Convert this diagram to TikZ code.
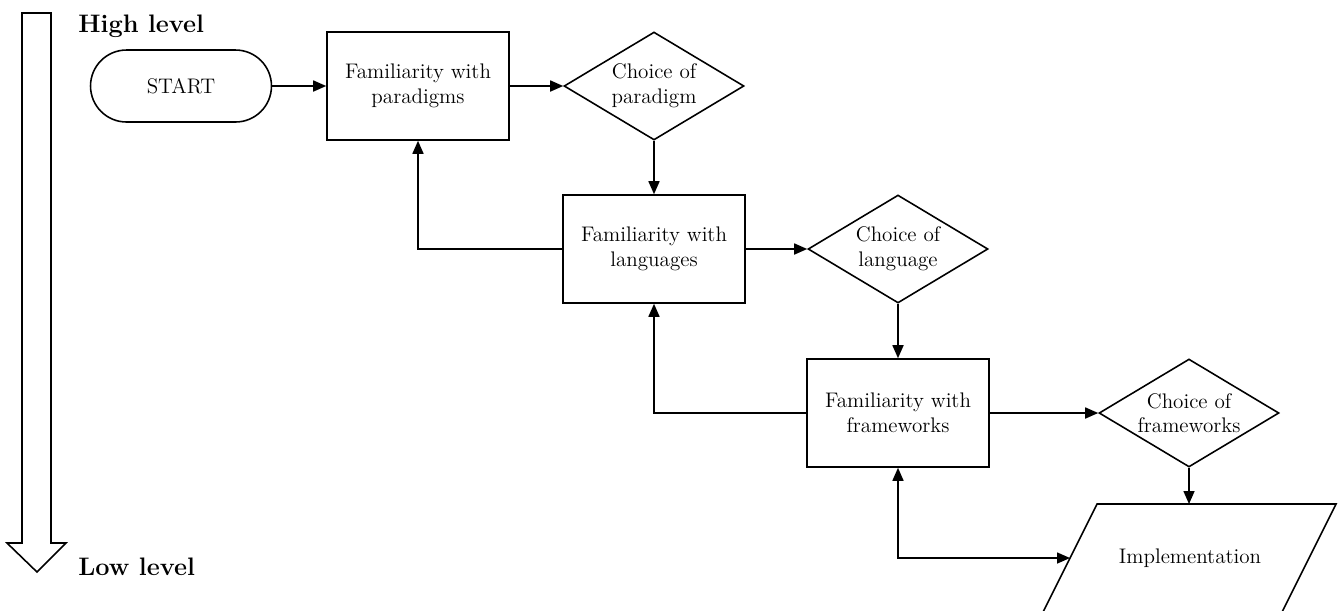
\documentclass[tikz,border=0pt]{standalone}
\usetikzlibrary{shapes.geometric,arrows.meta}

\tikzset{
  line/.style={line width=0.9pt},
  flow/.style={line, -{Triangle[length=0.26cm,width=0.22cm]}},
  twoway/.style={line, {Triangle[length=0.26cm,width=0.22cm]}-{Triangle[length=0.26cm,width=0.22cm]}},
  procbox/.style={line, draw, rectangle, minimum width=3.64cm, minimum height=2.16cm, align=center, font=\large},
  choice/.style={line, draw, diamond, inner sep=0pt, minimum width=3.6cm, minimum height=2.16cm},
  terminal/.style={line, draw, rectangle, rounded corners=0.72cm, minimum width=3.62cm, minimum height=1.44cm, font=\large},
  heading/.style={font=\Large\bfseries, anchor=base west, inner sep=0pt}
}

\begin{document}
\begin{tikzpicture}[x=0.02cm, y=-0.02cm]
    \useasboundingbox (0,0) rectangle (1342,610);

    % Level arrow on the left
    \draw[line] (22,13) -- (51,13) -- (51,543) -- (66,543) -- (37,572)
        -- (7,543) -- (22,543) -- cycle;
    \node[heading] (high) at (78,32) {High level};
    \node[heading] (low) at (78,575) {Low level};

    % Nodes of the flow
    \node[terminal] (start) at (181,86) {START};
    \node[procbox] (paradigms) at (418,86) {Familiarity with\\paradigms};
    \node[choice, label={[align=center, font=\large]center:Choice of\\paradigm}] (cparadigm) at (654,86) {};
    \node[procbox] (languages) at (654,249) {Familiarity with\\languages};
    \node[choice, label={[align=center, font=\large]center:Choice of\\language}] (clanguage) at (898,249) {};
    \node[procbox] (frameworks) at (898,413) {Familiarity with\\frameworks};
    \node[choice, label={[align=center, font=\large]center:Choice of\\frameworks}] (cframeworks) at (1189,413) {};

    % Implementation (parallelogram)
    \coordinate (itl) at (1097,504);
    \coordinate (itr) at (1336,504);
    \coordinate (ibr) at (1282,612);
    \coordinate (ibl) at (1043,612);
    \coordinate (iwest) at (1070,558);
    \draw[line] (itl) -- (itr) -- (ibr) -- (ibl) -- cycle;
    \node[font=\large] (impl) at (1190,558) {Implementation};

    % Forward arrows
    \draw[flow] (start) -- (paradigms);
    \draw[flow] (paradigms) -- (cparadigm.west);
    \draw[flow] (cparadigm.south) -- (languages.north);
    \draw[flow] (languages) -- (clanguage.west);
    \draw[flow] (clanguage.south) -- (frameworks.north);
    \draw[flow] (frameworks) -- (cframeworks.west);
    \draw[flow] (cframeworks.south) -- (cframeworks.south |- itl);

    % Feedback arrows
    \draw[flow] (languages.west) -| (paradigms.south);
    \draw[flow] (frameworks.west) -| (languages.south);
    \draw[twoway] (frameworks.south) |- (iwest);
\end{tikzpicture}
\end{document}
